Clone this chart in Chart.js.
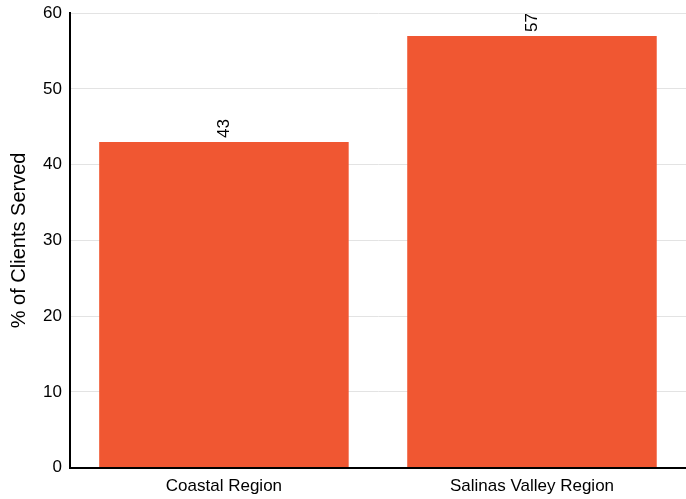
<!DOCTYPE html>
<html lang="en">
<head>
    <meta charset="UTF-8">
    <title>Clients Served</title>
    <script src="https://cdn.jsdelivr.net/npm/chart.js"></script>
    <style>
        html, body { margin: 0; padding: 0; background: #fff; overflow: hidden; }
        #wrap { width: 686px; height: 499px; overflow: hidden; position: relative; }
        #inner { position: absolute; left: 0; top: -5px; width: 686px; height: 511px; }
    </style>
</head>
<body>
    <div id="wrap"><div id="inner"><canvas id="regionChart"></canvas></div></div>
    <script>
        const regions = ['Coastal Region', 'Salinas Valley Region'];
        const percentServed = [43, 57];
        const yTicks = [0, 10, 20, 30, 40, 50, 60];

        // value labels drawn vertically just above each bar
        const barLabels = {
            id: 'barLabels',
            afterDatasetsDraw(chart) {
                const ctx = chart.ctx;
                chart.getDatasetMeta(0).data.forEach((bar, i) => {
                    ctx.save();
                    ctx.translate(bar.x, bar.y - 4);
                    ctx.rotate(-Math.PI / 2);
                    ctx.font = '17px "Liberation Sans", Arial, sans-serif';
                    ctx.fillStyle = '#000';
                    ctx.textAlign = 'left';
                    ctx.textBaseline = 'middle';
                    ctx.fillText(String(percentServed[i]), 0, 0);
                    ctx.restore();
                });
            }
        };

        const ctx = document.getElementById('regionChart').getContext('2d');
        new Chart(ctx, {
            type: 'bar',
            data: {
                labels: regions,
                datasets: [{
                    data: percentServed,
                    backgroundColor: '#f05732',
                    borderWidth: 0,
                    barPercentage: 0.81,
                    categoryPercentage: 1
                }]
            },
            options: {
                responsive: true,
                maintainAspectRatio: false,
                animation: false,
                layout: { padding: 0 },
                plugins: {
                    legend: { display: false },
                    tooltip: { enabled: false }
                },
                scales: {
                    x: {
                        grid: { display: false, drawTicks: false },
                        border: { color: '#000', width: 2 },
                        ticks: {
                            color: '#000',
                            padding: 9,
                            font: { family: '"Liberation Sans", Arial, sans-serif', size: 17 }
                        }
                    },
                    y: {
                        min: 0,
                        max: 60,
                        afterBuildTicks(axis) {
                            axis.ticks = yTicks.map(v => ({ value: v }));
                        },
                        grid: { color: '#e3e3e3', drawTicks: false },
                        border: { color: '#000', width: 2 },
                        title: {
                            display: true,
                            text: '% of Clients Served',
                            color: '#000',
                            padding: { top: 7, bottom: 4 },
                            font: { family: '"Liberation Sans", Arial, sans-serif', size: 20 }
                        },
                        ticks: {
                            color: '#000',
                            padding: 8,
                            font: { family: '"Liberation Sans", Arial, sans-serif', size: 17 }
                        }
                    }
                }
            },
            plugins: [barLabels]
        });
    </script>
</body>
</html>
